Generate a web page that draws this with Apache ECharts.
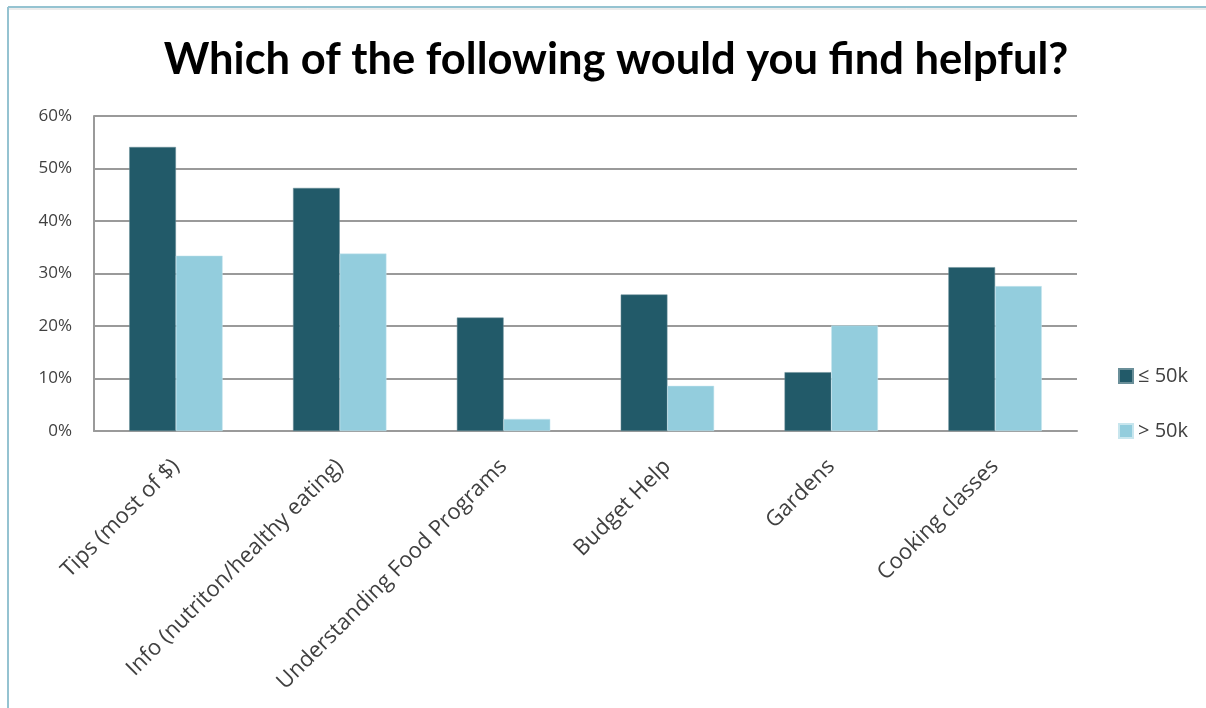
<!DOCTYPE html>
<html>
<head>
<meta charset="utf-8">
<script src="https://cdn.jsdelivr.net/npm/echarts@6/dist/echarts.min.js"></script>
<style>
html,body{margin:0;padding:0;background:#fff;}
#chart{width:1206px;height:708px;}
</style>
</head>
<body>
<div id="chart"></div>
<script>
const categories = ["Tips (most of $)", "Info (nutriton/healthy eating)", "Understanding Food Programs", "Budget Help", "Gardens", "Cooking classes"];
const seriesNames = ["\u2264 50k", "> 50k"];
const low50k = [54.1, 46.3, 21.6, 26.0, 11.2, 31.2];
const high50k = [33.4, 33.8, 2.3, 8.6, 20.1, 27.6];
const yTicks = [0, 10, 20, 30, 40, 50, 60];

const chart = echarts.init(document.getElementById('chart'));
const font = 'Lato, "Open Sans", sans-serif';
const font2 = '"Open Sans", Lato, sans-serif';
chart.setOption({
  backgroundColor: '#ffffff',
  animation: false,
  title: {
    text: 'Which of the following would you find helpful?',
    left: 611, top: 33, textAlign: 'center',
    textStyle: {fontFamily: font, fontWeight: 'bold', fontSize: 43.5, color: '#000'}
  },
  graphic: [
    {type: 'line', shape: {x1: 8, y1: 7, x2: 1206, y2: 7}, style: {stroke: '#95c3d1', lineWidth: 2}},
    {type: 'line', shape: {x1: 8, y1: 9, x2: 1206, y2: 9}, style: {stroke: '#d8d8d8', lineWidth: 1}},
    {type: 'line', shape: {x1: 8, y1: 7, x2: 8, y2: 708}, style: {stroke: '#95c3d1', lineWidth: 2}}
  ],
  legend: {
    orient: 'vertical', left: 1113, top: 361,
    itemWidth: 14, itemHeight: 14, itemGap: 35,
    icon: 'rect',
    textStyle: {fontFamily: font2, fontSize: 20, color: '#404040'},
    data: seriesNames
  },
  grid: {left: 94, right: 129, top: 116, bottom: 277, containLabel: false},
  xAxis: {
    type: 'category', data: categories,
    axisLine: {lineStyle: {color: '#9a9a9a', width: 2}},
    axisTick: {show: false},
    axisLabel: {rotate: 45, fontFamily: font2, fontSize: 22, color: '#404040', margin: 32, interval: 0}
  },
  yAxis: {
    type: 'value', min: yTicks[0], max: yTicks[yTicks.length - 1], interval: 10,
    axisLine: {show: true, lineStyle: {color: '#9a9a9a', width: 2}},
    axisTick: {show: false},
    splitLine: {lineStyle: {color: '#9a9a9a', width: 2}},
    axisLabel: {formatter: '{value}%', fontFamily: font2, fontSize: 17, color: '#404040', margin: 22}
  },
  series: [
    {name: seriesNames[0], type: 'bar', data: low50k, barGap: '0%', barCategoryGap: '43%',
     itemStyle: {color: '#225a69', borderColor: '#6a8f99', borderWidth: 0.5}},
    {name: seriesNames[1], type: 'bar', data: high50k,
     itemStyle: {color: '#93cddd', borderColor: '#c8e6ee', borderWidth: 0.5}}
  ]
});
</script>
</body>
</html>
